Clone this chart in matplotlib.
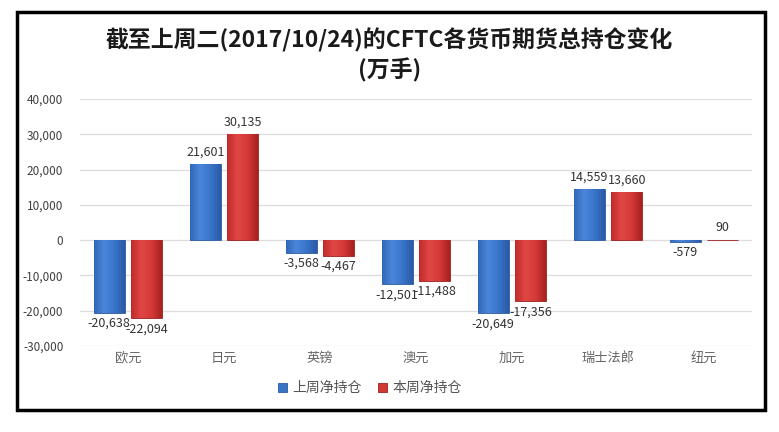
import matplotlib
matplotlib.use('Agg')
import matplotlib.pyplot as plt
import numpy as np
from matplotlib.patches import Rectangle
from matplotlib.ticker import FuncFormatter
from matplotlib.colors import LinearSegmentedColormap

plt.rcParams['font.family'] = ['Noto Sans CJK SC', 'DejaVu Sans']

# 数据
currencies = ['欧元', '日元', '英镑', '澳元', '加元', '瑞士法郎', '纽元']
last_week = [-20638, 21601, -3568, -12501, -20649, 14559, -579]
this_week = [-22094, 30135, -4467, -11488, -17356, 13660, 90]
series_names = ['上周净持仓', '本周净持仓']
y_ticks = [-30000, -20000, -10000, 0, 10000, 20000, 30000, 40000]

blue = '#3a72c6'
red = '#d03836'
# 立体效果用的渐变
blue_cmap = LinearSegmentedColormap.from_list('b', ['#3367b8', '#4a86da', '#3a74c8', '#2a5aa6'])
red_cmap = LinearSegmentedColormap.from_list('r', ['#c02c2a', '#e04644', '#d43a38', '#a82220'])

fig = plt.figure(figsize=(7.79, 4.32), dpi=100)
# 外框
fig.patches.append(Rectangle((17 / 779, 1 - 410 / 432), (765 - 17) / 779, (410 - 12) / 432,
                             transform=fig.transFigure, fill=False, edgecolor='black',
                             linewidth=2.5, zorder=10))

ax = fig.add_axes([80 / 779, 1 - 346 / 432, (752 - 80) / 779, (346 - 99) / 432])

x = np.arange(len(currencies))
w = 0.32
off = 0.195
b1 = ax.bar(x - off, last_week, w, color=blue, edgecolor='#2c5aa0', linewidth=0.6, zorder=3)
b2 = ax.bar(x + off, this_week, w, color=red, edgecolor='#9a2020', linewidth=0.6, zorder=3)

grad = np.linspace(0, 1, 64).reshape(1, -1)
for bars, cmap in ((b1, blue_cmap), (b2, red_cmap)):
    for b in bars:
        x0, y0 = b.get_x(), b.get_y()
        bw, bh = b.get_width(), b.get_height()
        im = ax.imshow(grad, cmap=cmap, aspect='auto', zorder=3.5,
                       extent=(x0, x0 + bw, min(y0, y0 + bh), max(y0, y0 + bh)))
        im.set_clip_path(b)

# 数据标签
for bars, vals in ((b1, last_week), (b2, this_week)):
    for b, v in zip(bars, vals):
        cx = b.get_x() + b.get_width() / 2
        if v >= 0:
            ax.annotate(f'{v:,}', (cx, v), xytext=(0, 4), textcoords='offset points',
                        ha='center', va='bottom', fontsize=9, color='#333333')
        else:
            ax.annotate(f'{v:,}', (cx, v), xytext=(0, -3), textcoords='offset points',
                        ha='center', va='top', fontsize=9, color='#333333')

ax.set_xlim(-0.5, len(currencies) - 0.5)
ax.set_ylim(-30000, 40000)
ax.set_yticks(y_ticks)
ax.yaxis.set_major_formatter(FuncFormatter(lambda v, p: f'{int(v):,}'))
ax.set_xticks(x)
ax.set_xticklabels(currencies, fontsize=9.5, color='#666666')
ax.tick_params(axis='y', labelsize=8.5, colors='#404040', length=0, pad=12)
ax.tick_params(axis='x', length=0, pad=4)
ax.grid(axis='y', color='#dcdcdc', linewidth=0.9, zorder=0)
for s in ax.spines.values():
    s.set_visible(False)

fig.text(0.5, 1 - 40 / 432, '截至上周二(2017/10/24)的CFTC各货币期货总持仓变化',
         ha='center', va='center', fontsize=16.5, fontweight='bold', color='#1a1a1a')
fig.text(0.5, 1 - 70 / 432, '(万手)', ha='center', va='center', fontsize=16.5,
         fontweight='bold', color='#1a1a1a')

fig.legend([b1, b2], series_names, loc='center', bbox_to_anchor=(370 / 779, 1 - 388 / 432),
           ncol=2, frameon=False, fontsize=10, handlelength=0.6, handleheight=0.6,
           handletextpad=0.4, columnspacing=1.2, labelcolor='#555555')

fig.savefig('out.png', dpi=100)
